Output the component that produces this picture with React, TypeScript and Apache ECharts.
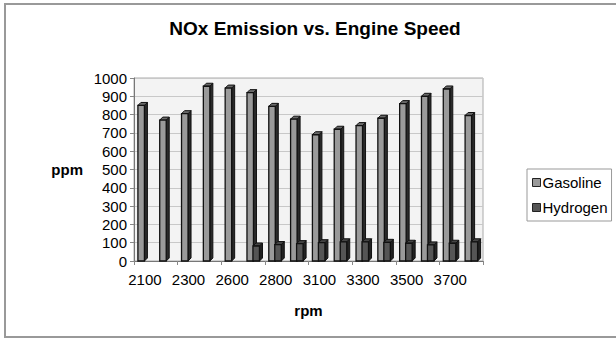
import React, { useEffect, useRef } from "react";
import * as echarts from "echarts";

const categories = ["2100", "2200", "2300", "2500", "2600", "2700", "2800", "3000", "3100", "3200", "3300", "3400", "3500", "3600", "3700", "3800"];
const gasoline = [850, 770, 805, 955, 945, 920, 845, 775, 690, 720, 740, 780, 860, 900, 940, 795];
const hydrogen = [0, 0, 0, 0, 0, 82, 90, 95, 100, 105, 105, 102, 97, 88, 97, 105];
const yTicks = { min: 0, max: 1000, interval: 100 };

const DX = 3;
const DY = -3;

function makeRender(offset: number, front: string, side: string, topc: string) {
  return (params: any, api: any) => {
    const idx = api.value(0);
    const val = api.value(1);
    if (!(val > 0)) return null;
    const top = api.coord([idx, val]);
    const base = api.coord([idx, 0]);
    const x0 = top[0] + offset;
    const w = 6.5;
    const y0 = top[1];
    const y1 = base[1];
    const stroke = "#111";
    return {
      type: "group",
      children: [
        {
          type: "polygon",
          shape: { points: [[x0 + w, y0], [x0 + w + DX, y0 + DY], [x0 + w + DX, y1 + DY], [x0 + w, y1]] },
          style: { fill: side, stroke, lineWidth: 1 },
        },
        {
          type: "polygon",
          shape: { points: [[x0, y0], [x0 + DX, y0 + DY], [x0 + w + DX, y0 + DY], [x0 + w, y0]] },
          style: { fill: topc, stroke, lineWidth: 1 },
        },
        {
          type: "rect",
          shape: { x: x0, y: y0, width: w, height: y1 - y0 },
          style: { fill: front, stroke, lineWidth: 1.3 },
        },
      ],
    };
  };
}

export default function App() {
  const ref = useRef<HTMLDivElement>(null);
  useEffect(() => {
    const chart = echarts.init(ref.current!, undefined, { renderer: "svg" });
    const font = "Liberation Sans, Arial, sans-serif";
    chart.setOption({
      animation: false,
      backgroundColor: "#ffffff",
      textStyle: { fontFamily: font },
      title: {
        text: "NOx Emission vs. Engine Speed",
        left: 310,
        top: 14,
        textAlign: "center",
        textStyle: { fontFamily: font, fontSize: 19, fontWeight: "bold", color: "#000" },
      },
      legend: {
        orient: "vertical",
        left: 527,
        top: 169,
        itemWidth: 8,
        itemHeight: 8,
        itemGap: 10,
        padding: [6, 4, 6, 5],
        borderColor: "#999",
        borderWidth: 1,
        textStyle: { fontFamily: font, fontSize: 15, color: "#000", padding: [0, 0, 0, -3] },
        data: [
          { name: "Gasoline", icon: "rect", itemStyle: { color: "#999999", borderColor: "#222", borderWidth: 1 } },
          { name: "Hydrogen", icon: "rect", itemStyle: { color: "#555555", borderColor: "#222", borderWidth: 1 } },
        ],
      },
      grid: {
        left: 134,
        right: 133,
        top: 78,
        bottom: 79,
        show: true,
        backgroundColor: "#f3f3f3",
        borderColor: "#aaa",
        borderWidth: 1,
      },
      xAxis: {
        type: "category",
        data: categories,
        name: "rpm",
        nameLocation: "middle",
        nameGap: 42,
        nameTextStyle: { fontFamily: font, fontSize: 15, fontWeight: "bold", color: "#000" },
        axisLine: { show: true, lineStyle: { color: "#777", width: 1 } },
        axisTick: { show: true, alignWithLabel: false, length: 4, lineStyle: { color: "#888" } },
        axisLabel: { interval: 1, fontFamily: font, fontSize: 15, color: "#000", margin: 11 },
        splitLine: { show: false },
      },
      yAxis: {
        type: "value",
        min: yTicks.min,
        max: yTicks.max,
        interval: yTicks.interval,
        name: "ppm",
        nameLocation: "middle",
        nameRotate: 0,
        nameGap: 51,
        nameTextStyle: { fontFamily: font, fontSize: 15, fontWeight: "bold", color: "#000" },
        axisLine: { show: true, lineStyle: { color: "#777", width: 1 } },
        axisTick: { show: true, length: 4, lineStyle: { color: "#888" } },
        axisLabel: { fontFamily: font, fontSize: 15, color: "#000", margin: 7, formatter: (v: number) => String(v) },
        splitLine: { show: true, lineStyle: { color: "#c8c8c8", width: 1 } },
      },
      series: [
        {
          name: "Gasoline",
          type: "custom",
          itemStyle: { color: "#999999" },
          renderItem: makeRender(-7, "#9a9a9a", "#2a2a2a", "#6a6a6a"),
          encode: { x: 0, y: 1 },
          data: gasoline.map((v, i) => [i, v]),
          z: 2,
        },
        {
          name: "Hydrogen",
          type: "custom",
          itemStyle: { color: "#555555" },
          renderItem: makeRender(-1, "#555555", "#222222", "#444444"),
          encode: { x: 0, y: 1 },
          data: hydrogen.map((v, i) => [i, v]),
          z: 3,
        },
      ],
      graphic: [
        {
          type: "rect",
          shape: { x: 5, y: 4, width: 640, height: 333 },
          style: { fill: "none", stroke: "#999", lineWidth: 2 },
          silent: true,
        },
      ],
    });
    return () => chart.dispose();
  }, []);
  return <div ref={ref} style={{ position: "fixed", left: 0, top: 0, width: 616, height: 340 }} />;
}
